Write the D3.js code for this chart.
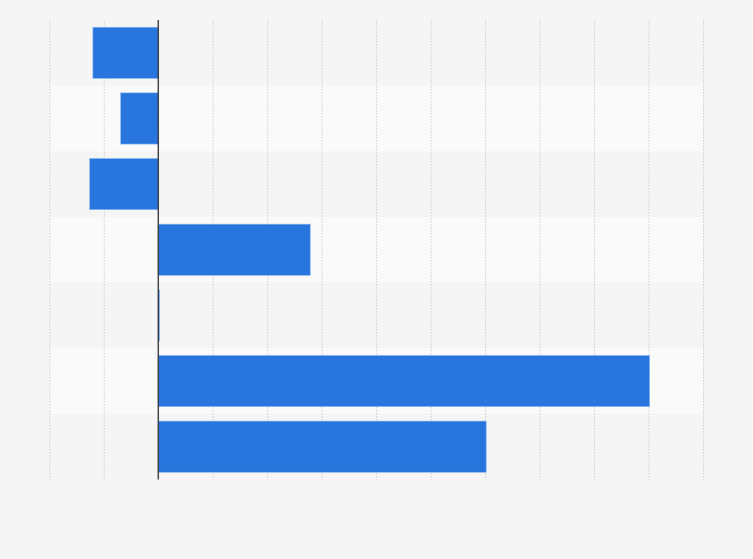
<!DOCTYPE html>
<html>
<head>
<meta charset="utf-8">
<script src="https://cdn.jsdelivr.net/npm/d3@7"></script>
<style>
  body { margin: 0; background: #f5f5f5; }
  svg { display: block; }
</style>
</head>
<body>
<div id="chart"></div>
<script>
// chart data (no labels shown in the picture)
var categories = ["A", "B", "C", "D", "E", "F", "G"];
var values = [-1.2, -0.69, -1.26, 2.79, 0.025, 9.02, 6.02];
var tickValues = [-2, -1, 0, 1, 2, 3, 4, 5, 6, 7, 8, 9, 10];

var svgWidth = 753;
var svgHeight = 559;

var margin = { top: 20, right: 50, bottom: 79.5, left: 49.3 };

var width = svgWidth - margin.left - margin.right;
var height = svgHeight - margin.top - margin.bottom;

var svg = d3.select("#chart")
    .append("svg")
    .attr("width", svgWidth)
    .attr("height", svgHeight);

svg.append("rect")
    .attr("width", svgWidth)
    .attr("height", svgHeight)
    .attr("fill", "#f5f5f5");

var chartGroup = svg.append("g")
    .attr("transform", `translate(${margin.left}, ${margin.top})`);

var xScale = d3.scaleLinear()
    .domain([-2, 10])
    .range([0, width]);

var yBand = d3.scaleBand()
    .domain(categories)
    .range([0, height]);

var yScale = d3.scaleBand()
    .domain(categories)
    .range([0, height])
    .paddingInner(0.22)
    .paddingOuter(0.11);

// alternating row bands
chartGroup.selectAll("rect.band")
    .data(categories)
    .enter()
    .append("rect")
    .attr("class", "band")
    .attr("x", 0)
    .attr("y", d => yBand(d))
    .attr("width", width)
    .attr("height", yBand.bandwidth())
    .attr("fill", (d, i) => i % 2 === 0 ? "#f5f5f5" : "#fafafa");

// dotted vertical grid
var grid = chartGroup.append("g")
    .call(d3.axisBottom(xScale).tickValues(tickValues).tickSize(height).tickFormat(""));
grid.select(".domain").remove();
grid.selectAll(".tick line")
    .attr("stroke", "#cfcfcf")
    .attr("stroke-width", 1)
    .attr("stroke-dasharray", "1.5,1.5");

// bars
chartGroup.selectAll("rect.bar")
    .data(values)
    .enter()
    .append("rect")
    .attr("class", "bar")
    .attr("x", d => xScale(Math.min(0, d)))
    .attr("y", (d, i) => yScale(categories[i]))
    .attr("width", d => Math.abs(xScale(d) - xScale(0)))
    .attr("height", yScale.bandwidth())
    .attr("fill", "#2876dd")
    .attr("stroke", "#8fb8ee")
    .attr("stroke-width", 0.6);

// zero line
chartGroup.append("line")
    .attr("x1", xScale(0))
    .attr("x2", xScale(0))
    .attr("y1", 0)
    .attr("y2", height)
    .attr("stroke", "#333333")
    .attr("stroke-width", 1.3);
</script>
</body>
</html>
